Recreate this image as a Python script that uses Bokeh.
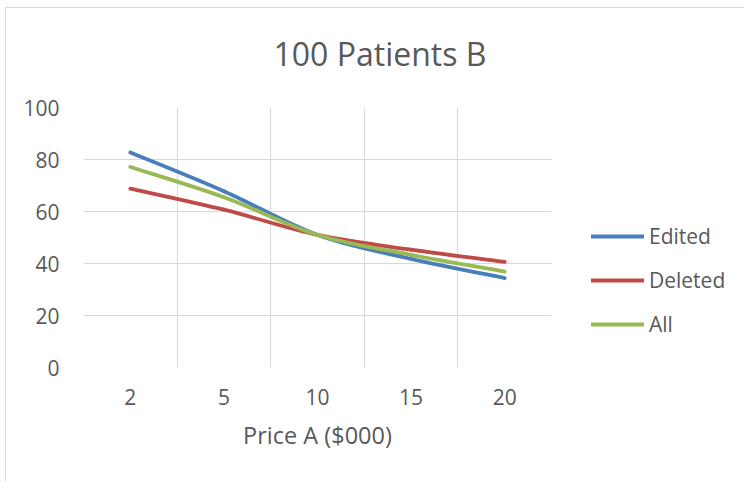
from bokeh.plotting import figure
from bokeh.models import FixedTicker, Legend, LegendItem, Range1d, ColumnDataSource
from bokeh.embed import file_html
from bokeh.resources import INLINE

categories = ["2", "5", "10", "15", "20"]
edited = [82.7, 67.8, 51.0, 41.8, 34.4]
deleted = [68.8, 60.7, 51.0, 45.3, 40.6]
all_ = [77.1, 65.5, 51.0, 43.3, 36.9]
series = [("Edited", edited, "#4A7EBB"), ("Deleted", deleted, "#BE4B48"), ("All", all_, "#98B954")]

FONT = "Open Sans"
TXT = "#595959"
GRID = "#D9D9D9"

p = figure(output_backend="svg", toolbar_location=None,
           frame_width=468, frame_height=260,
           min_border_left=83, min_border_right=192, min_border_top=107, min_border_bottom=114,
           x_range=Range1d(-0.5, len(categories) - 0.5), y_range=Range1d(0, 100),
           title="100 Patients B")
p.styles = {
    "background-color": "white",
    "background-image": "linear-gradient(#D9D9D9, #D9D9D9), linear-gradient(#D9D9D9, #D9D9D9)",
    "background-position": "5px 7px, 5px 7px",
    "background-size": "100% 1px, 1px 100%",
    "background-repeat": "no-repeat",
}
p.outline_line_color = None
p.background_fill_color = "white"
p.border_fill_alpha = 0

p.title.align = "left"
p.title.vertical_align = "top"
p.title.text_font = FONT
p.title.text_font_size = "32px"
p.title.text_font_style = "normal"
p.title.text_color = TXT
p.title.offset = 190
p.title.standoff = 62

xs = list(range(len(categories)))
p.xaxis.ticker = FixedTicker(ticks=xs)
p.xaxis.major_label_overrides = {i: c for i, c in enumerate(categories)}
p.xgrid.ticker = FixedTicker(ticks=[i - 0.5 for i in range(len(categories) + 1)])
p.yaxis.ticker = FixedTicker(ticks=[0, 20, 40, 60, 80, 100])
p.ygrid.ticker = FixedTicker(ticks=[0, 20, 40, 60, 80, 100])
for g in (p.xgrid, p.ygrid):
    g.grid_line_color = GRID
    g.grid_line_width = 1
for ax in (p.xaxis, p.yaxis):
    ax.axis_line_color = None
    ax.major_tick_line_color = None
    ax.minor_tick_line_color = None
    ax.major_label_text_font = FONT
    ax.major_label_text_font_size = "21px"
    ax.major_label_text_color = TXT
p.xaxis.major_label_standoff = 15
p.yaxis.major_label_standoff = 18
p.xaxis.axis_label = "Price A ($000)"
p.xaxis.axis_label_text_font = FONT
p.xaxis.axis_label_text_font_size = "23.5px"
p.xaxis.axis_label_text_font_style = "normal"
p.xaxis.axis_label_text_color = TXT
p.xaxis.axis_label_standoff = 11

items = []
n = len(xs)
for name, ys, color in series:
    x0, y0, x1, y1, cx0, cy0, cx1, cy1 = [], [], [], [], [], [], [], []
    for i in range(n - 1):
        im1 = max(i - 1, 0)
        ip2 = min(i + 2, n - 1)
        x0.append(xs[i]); y0.append(ys[i])
        x1.append(xs[i + 1]); y1.append(ys[i + 1])
        cx0.append(xs[i] + (xs[i + 1] - xs[im1]) / 6)
        cy0.append(ys[i] + (ys[i + 1] - ys[im1]) / 6)
        cx1.append(xs[i + 1] - (xs[ip2] - xs[i]) / 6)
        cy1.append(ys[i + 1] - (ys[ip2] - ys[i]) / 6)
    src = ColumnDataSource(dict(x0=x0, y0=y0, x1=x1, y1=y1, cx0=cx0, cy0=cy0, cx1=cx1, cy1=cy1))
    r = p.bezier(x0="x0", y0="y0", x1="x1", y1="y1", cx0="cx0", cy0="cy0", cx1="cx1", cy1="cy1",
                 source=src, line_color=color, line_width=3.8, line_cap="round")
    items.append(LegendItem(label=name, renderers=[r]))

legend = Legend(items=items, location=(40, 29))
legend.glyph_width = 53
legend.glyph_height = 20
legend.label_height = 20
legend.spacing = 16
legend.padding = 0
legend.margin = 0
legend.label_standoff = 5
legend.border_line_color = None
legend.background_fill_alpha = 0
legend.label_text_font = FONT
legend.label_text_font_size = "21px"
legend.label_text_color = TXT
p.add_layout(legend, "right")

open("out.html", "w").write(file_html(p, INLINE))
